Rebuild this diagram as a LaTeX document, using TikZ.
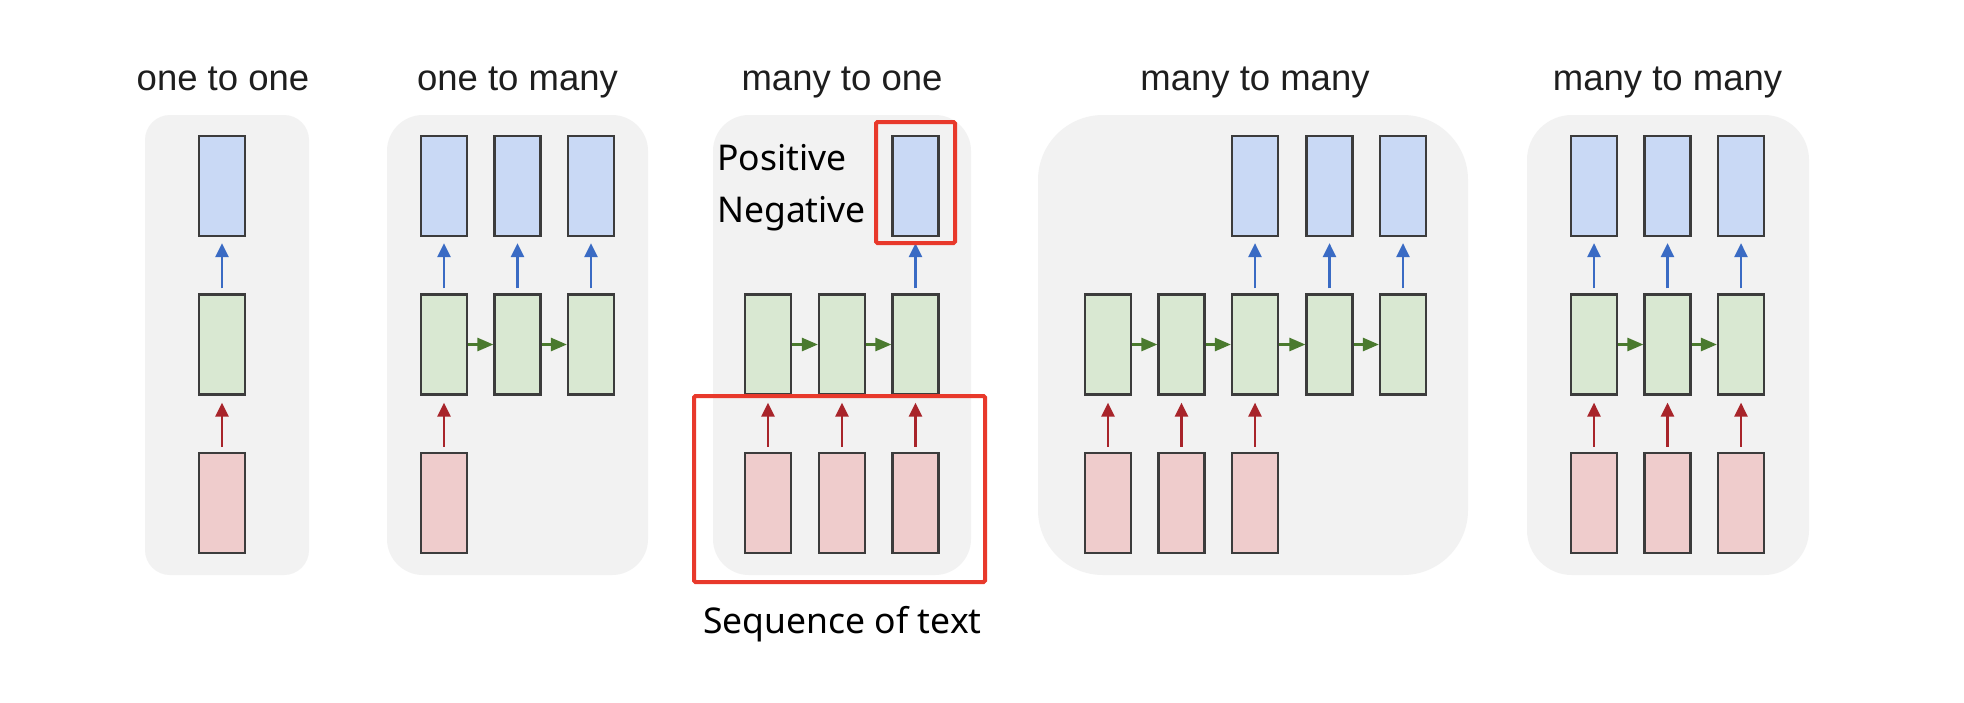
\documentclass[tikz,border=0pt]{standalone}
\usepackage{fontspec}
\setmainfont{Liberation Sans}
\newfontfamily\notosans{Noto Sans}
\usetikzlibrary{arrows.meta}
\definecolor{panelbg}{HTML}{F2F2F2}
\definecolor{outfill}{HTML}{C9D9F5}
\definecolor{hidfill}{HTML}{D9E8D2}
\definecolor{infill}{HTML}{EFCCCC}
\definecolor{boxline}{HTML}{3C3C3C}
\definecolor{arrblue}{HTML}{3A6BC4}
\definecolor{arrred}{HTML}{A8242A}
\definecolor{arrgreen}{HTML}{4A7A2E}
\definecolor{hlred}{HTML}{E8392B}
\definecolor{titlecol}{HTML}{1E1E1E}
\tikzset{
  cell/.style={draw=boxline, line width=2.2pt, minimum width=46pt, minimum height=100pt, inner sep=0pt},
  outcell/.style={cell, fill=outfill},
  hidcell/.style={cell, fill=hidfill},
  incell/.style={cell, fill=infill},
  arrbase/.style={line width=2.6pt, -{Triangle[length=14pt,width=13pt]}},
  outarr/.style={arrbase, draw=arrblue},
  inarr/.style={arrbase, draw=arrred},
  recarr/.style={line width=2.6pt, draw=arrgreen, -{Triangle[length=16pt,width=13pt]}},
  panel/.style={fill=panelbg},
  title/.style={font=\fontsize{36.5}{40}\selectfont, text=titlecol, anchor=base, inner sep=0pt},
  note/.style={font=\notosans\fontsize{35.5}{40}\selectfont, text=black, inner sep=0pt},
  hl/.style={draw=hlred, line width=4pt, rounded corners=1.5pt}
}
\begin{document}
\begin{tikzpicture}[x=1pt,y=-1pt]
\useasboundingbox (0,0) rectangle (1964,702);
\fill[white] (0,0) rectangle (1964,702);
% panels
\fill[panel, rounded corners=25pt] (145,115) rectangle (309,575);
\fill[panel, rounded corners=36pt] (387,115) rectangle (648,575);
\fill[panel, rounded corners=36pt] (713,115) rectangle (971,575);
\fill[panel, rounded corners=65pt] (1038,115) rectangle (1468,575);
\fill[panel, rounded corners=45pt] (1527,115) rectangle (1809,575);
% titles
\node[title] (t1) at (223,90) {one to one};
\node[title] (t2) at (517.5,90) {one to many};
\node[title] (t3) at (842,90) {many to one};
\node[title] (t4) at (1255,90) {many to many};
\node[title] (t5) at (1667.5,90) {many to many};
% panel 1: one to one
\node[outcell] (ao1) at (222,186) {};
\node[hidcell] (ah1) at (222,344.5) {};
\node[incell] (ai1) at (222,503) {};
\draw[inarr] ([yshift=5pt]ai1.north) -- ([yshift=-7pt]ah1.south);
\draw[outarr] ([yshift=5pt]ah1.north) -- ([yshift=-6pt]ao1.south);
% panel 2: one to many
\foreach \x [count=\i] in {444,517.5,591} {
  \node[outcell] (bo\i) at (\x,186) {};
  \node[hidcell] (bh\i) at (\x,344.5) {};
  \draw[outarr] ([yshift=5pt]bh\i.north) -- ([yshift=-6pt]bo\i.south);
}
\node[incell] (bi1) at (444,503) {};
\draw[inarr] ([yshift=5pt]bi1.north) -- ([yshift=-7pt]bh1.south);
\foreach \i/\j in {1/2,2/3} \draw[recarr] (bh\i.east) -- (bh\j.west);
% panel 3: many to one
\foreach \x [count=\i] in {768,842,915.5} {
  \node[hidcell] (ch\i) at (\x,344.5) {};
  \node[incell] (ci\i) at (\x,503) {};
  \draw[inarr] ([yshift=5pt]ci\i.north) -- ([yshift=-7pt]ch\i.south);
}
\node[outcell] (co3) at (915.5,186) {};
\draw[outarr] ([yshift=5pt]ch3.north) -- ([yshift=-6pt]co3.south);
\foreach \i/\j in {1/2,2/3} \draw[recarr] (ch\i.east) -- (ch\j.west);
% panel 4: many to many (delayed)
\foreach \x [count=\i] in {1108,1181.5,1255,1329.5,1403} {
  \node[hidcell] (dh\i) at (\x,344.5) {};
}
\foreach \x [count=\i] in {1108,1181.5,1255} {
  \node[incell] (di\i) at (\x,503) {};
  \draw[inarr] ([yshift=5pt]di\i.north) -- ([yshift=-7pt]dh\i.south);
}
\foreach \x [count=\i from 3] in {1255,1329.5,1403} {
  \node[outcell] (do\i) at (\x,186) {};
  \draw[outarr] ([yshift=5pt]dh\i.north) -- ([yshift=-6pt]do\i.south);
}
\foreach \i/\j in {1/2,2/3,3/4,4/5} \draw[recarr] (dh\i.east) -- (dh\j.west);
% panel 5: many to many (synced)
\foreach \x [count=\i] in {1594,1667.5,1741} {
  \node[outcell] (eo\i) at (\x,186) {};
  \node[hidcell] (eh\i) at (\x,344.5) {};
  \node[incell] (ei\i) at (\x,503) {};
  \draw[inarr] ([yshift=5pt]ei\i.north) -- ([yshift=-7pt]eh\i.south);
  \draw[outarr] ([yshift=5pt]eh\i.north) -- ([yshift=-6pt]eo\i.south);
}
\foreach \i/\j in {1/2,2/3} \draw[recarr] (eh\i.east) -- (eh\j.west);
% annotations
\draw[hl] (876,122) rectangle (955,243);
\draw[hl] (694,396) rectangle (985,582);
\node[note, anchor=base west] (pos) at (717,170) {Positive};
\node[note, anchor=base west] (neg) at (717,222) {Negative};
\node[note, anchor=base] (seq) at (842.5,633) {Sequence of text};
\end{tikzpicture}
\end{document}
